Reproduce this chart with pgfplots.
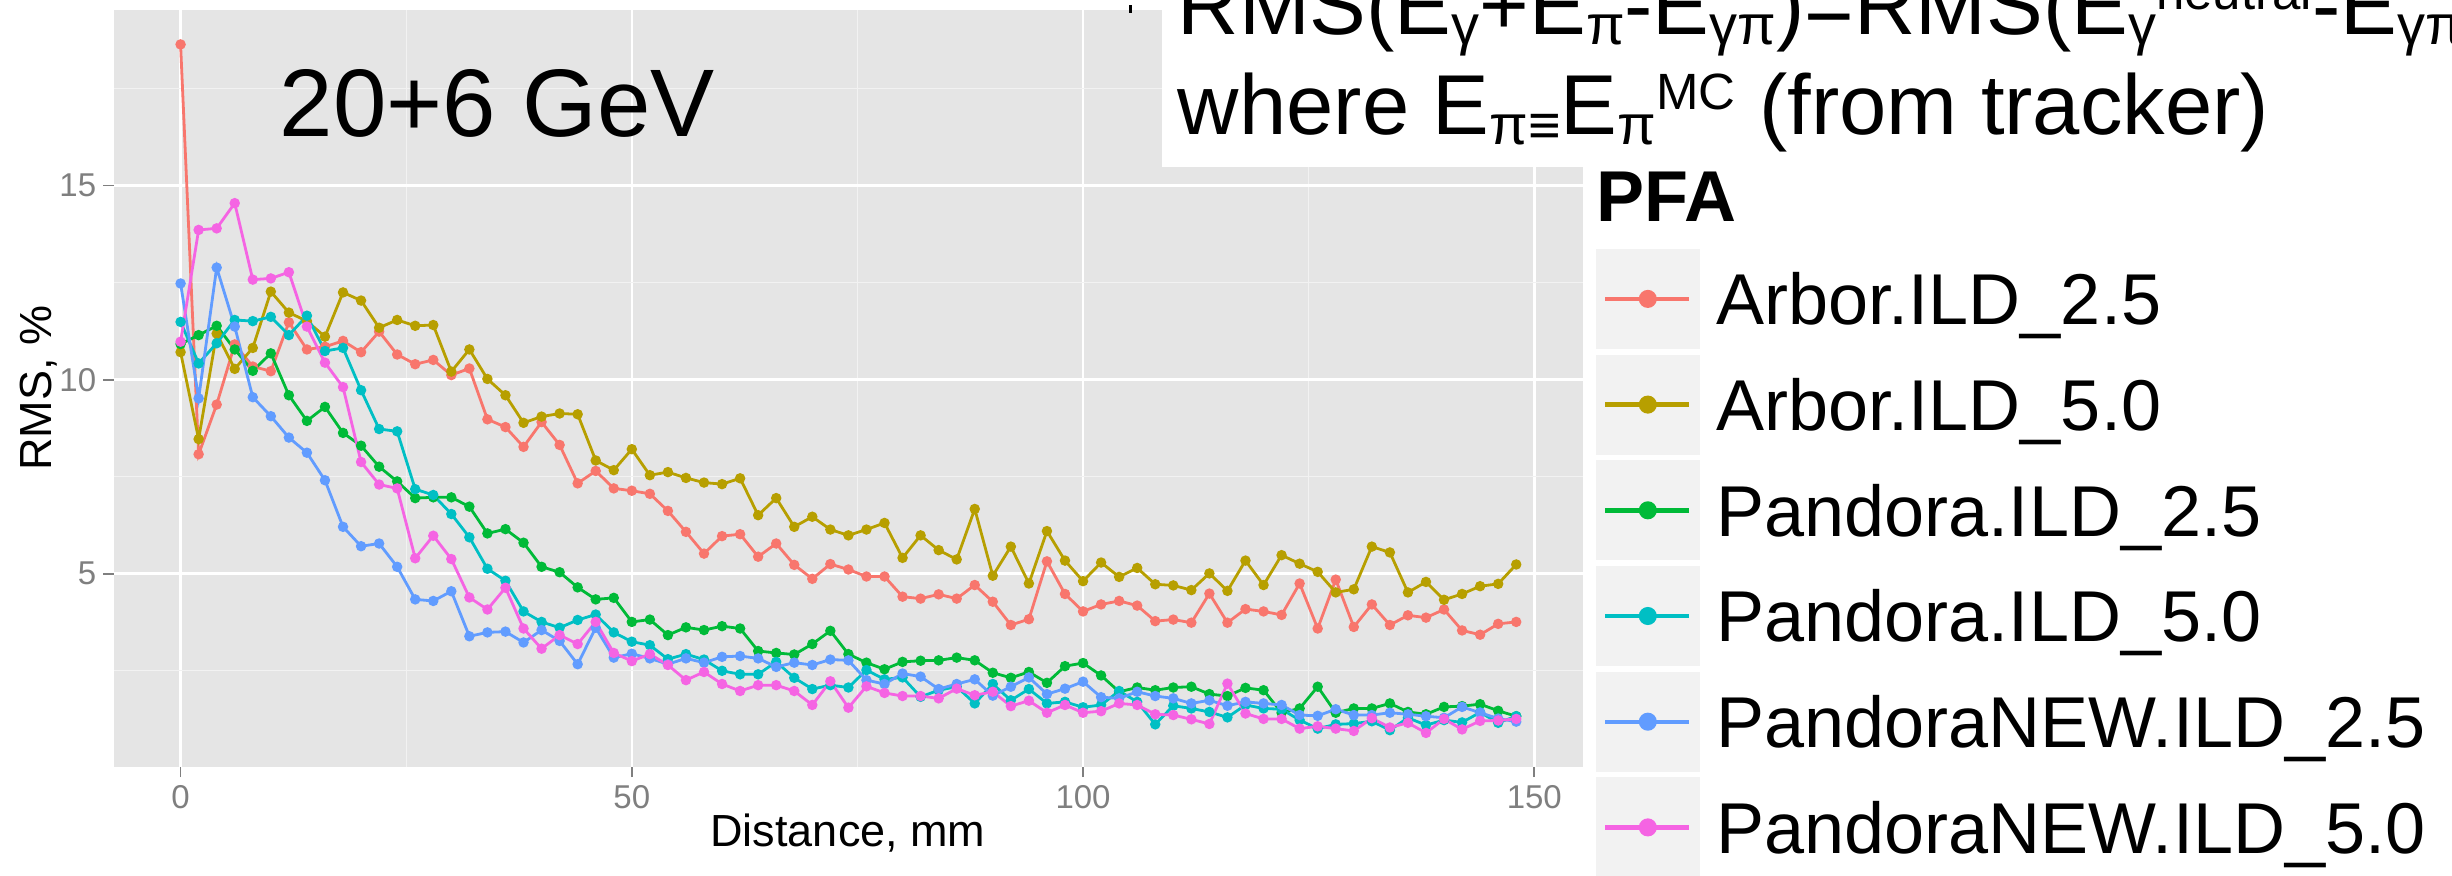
\documentclass[border=0pt]{standalone}
\usepackage{fontspec}
\setmainfont{Liberation Sans}
\usepackage{pgfplots}
\usepackage{pgfplotstable}
\pgfplotsset{compat=1.18}
\definecolor{cA}{HTML}{F8766D}
\definecolor{cB}{HTML}{B79F00}
\definecolor{cC}{HTML}{00BA38}
\definecolor{cD}{HTML}{00BFC4}
\definecolor{cE}{HTML}{619CFF}
\definecolor{cF}{HTML}{F564E3}
\definecolor{panel}{HTML}{E5E5E5}
\definecolor{gminor}{HTML}{F2F2F2}
\definecolor{tickgray}{HTML}{7F7F7F}
\definecolor{keybg}{HTML}{F2F2F2}
\newcommand\sub[1]{\raisebox{-2.5pt}{\fontsize{14pt}{14pt}\selectfont #1}}
\newcommand\sups[1]{\raisebox{6.25pt}{\fontsize{12.75pt}{12.75pt}\selectfont #1}}

\pgfplotstableread{
x a b c d e f
0 18.64 10.71 10.92 11.49 12.48 10.98
2 8.08 8.47 11.15 10.42 9.52 13.86
4 9.36 11.19 11.39 10.94 12.89 13.90
6 10.91 10.28 10.78 11.54 11.37 14.55
8 10.34 10.82 10.23 11.51 9.55 12.58
10 10.22 12.27 10.68 11.62 9.06 12.61
12 11.48 11.73 9.60 11.15 8.51 12.77
14 10.78 11.51 8.94 11.65 8.12 11.37
16 10.85 11.11 9.30 10.74 7.41 10.44
18 11.00 12.25 8.63 10.82 6.21 9.81
20 10.71 12.04 8.30 9.73 5.71 7.88
22 11.24 11.34 7.76 8.73 5.78 7.30
24 10.65 11.54 7.38 8.67 5.18 7.20
26 10.40 11.39 6.95 7.18 4.34 5.40
28 10.51 11.41 6.97 7.03 4.30 5.98
30 10.12 10.21 6.97 6.54 4.55 5.38
32 10.29 10.78 6.73 5.94 3.39 4.39
34 8.98 10.02 6.04 5.13 3.49 4.08
36 8.78 9.60 6.15 4.82 3.51 4.64
38 8.27 8.89 5.80 4.03 3.23 3.59
40 8.91 9.05 5.18 3.76 3.55 3.07
42 8.32 9.13 5.04 3.61 3.27 3.42
44 7.33 9.11 4.65 3.81 2.67 3.19
46 7.65 7.92 4.34 3.95 3.61 3.76
48 7.20 7.67 4.38 3.49 2.84 2.96
50 7.14 8.21 3.76 3.25 2.94 2.75
52 7.06 7.54 3.82 3.16 2.82 2.93
54 6.62 7.62 3.42 2.80 2.67 2.65
56 6.08 7.47 3.62 2.93 2.82 2.26
58 5.52 7.35 3.55 2.79 2.71 2.47
60 5.97 7.31 3.65 2.50 2.86 2.16
62 6.02 7.46 3.59 2.41 2.88 1.98
64 5.44 6.51 3.01 2.41 2.82 2.13
66 5.78 6.95 2.96 2.73 2.60 2.13
68 5.23 6.21 2.92 2.32 2.71 1.98
70 4.87 6.47 3.19 2.03 2.65 1.62
72 5.25 6.14 3.53 2.13 2.79 2.23
74 5.11 5.99 2.93 2.07 2.77 1.55
76 4.93 6.14 2.71 2.52 2.26 2.10
78 4.93 6.31 2.54 2.28 2.16 1.93
80 4.41 5.41 2.73 2.33 2.43 1.85
82 4.36 5.99 2.76 1.83 2.35 1.85
84 4.47 5.61 2.77 2.00 2.03 1.79
86 4.36 5.37 2.84 2.09 2.16 2.04
88 4.71 6.67 2.77 1.66 2.28 1.87
90 4.28 4.95 2.45 2.16 1.86 1.96
92 3.68 5.70 2.32 1.74 2.09 1.59
94 3.83 4.75 2.47 2.03 2.33 1.73
96 5.32 6.10 2.19 1.66 1.90 1.42
98 4.48 5.34 2.62 1.70 2.04 1.62
100 4.03 4.81 2.70 1.56 2.22 1.42
102 4.21 5.29 2.38 1.62 1.82 1.46
104 4.30 4.92 1.96 1.98 1.79 1.66
106 4.18 5.15 2.07 1.70 1.96 1.62
108 3.78 4.73 2.00 1.12 1.85 1.38
110 3.82 4.70 2.07 1.60 1.79 1.36
112 3.74 4.58 2.09 1.53 1.66 1.25
114 4.49 5.01 1.90 1.44 1.74 1.13
116 3.74 4.56 1.85 1.30 1.60 2.17
118 4.09 5.34 2.06 1.62 1.70 1.40
120 4.03 4.71 2.00 1.53 1.66 1.26
122 3.94 5.48 1.42 1.51 1.62 1.26
124 4.75 5.26 1.53 1.23 1.36 1.01
126 3.59 5.05 2.09 1.01 1.34 1.07
128 4.85 4.52 1.42 1.12 1.51 1.01
130 3.63 4.60 1.53 1.14 1.36 0.95
132 4.21 5.70 1.53 1.20 1.36 1.28
134 3.68 5.55 1.66 0.97 1.42 1.04
136 3.93 4.52 1.44 1.29 1.38 1.16
138 3.87 4.79 1.38 1.10 1.33 0.90
140 4.08 4.33 1.57 1.23 1.29 1.26
142 3.54 4.48 1.59 1.17 1.57 0.99
144 3.43 4.68 1.64 1.43 1.42 1.21
146 3.71 4.74 1.47 1.16 1.27 1.22
148 3.76 5.24 1.33 1.33 1.19 1.26
}\datatable

\begin{document}
\begin{tikzpicture}
\useasboundingbox (0pt,0pt) rectangle (613pt,219pt);
\clip (0pt,0pt) rectangle (613pt,219pt);
\begin{axis}[
  at={(28.45pt,27.33pt)}, anchor=south west,
  scale only axis, width=367.3pt, height=189.2pt,
  xmin=-7.4, xmax=155.4, ymin=0.03, ymax=19.53,
  axis background/.style={fill=panel},
  axis line style={draw=none},
  xtick={0,50,100,150}, ytick={5,10,15},
  minor xtick={25,75,125}, minor ytick={2.5,7.5,12.5,17.5},
  xmajorgrids, ymajorgrids, xminorgrids, yminorgrids,
  major grid style={white, line width=0.65pt},
  minor grid style={gminor, line width=0.33pt},
  tick align=outside, major tick length=2.6pt, minor tick length=0pt,
  xtick pos=left, ytick pos=left,
  tick style={tickgray, line width=0.4pt},
  /pgf/number format/assume math mode=true,
  xticklabel style={font=\fontsize{8.25pt}{8.25pt}\selectfont, text=tickgray, inner sep=0pt, anchor=north, yshift=-2pt},
  yticklabel style={font=\fontsize{8.25pt}{8.25pt}\selectfont, text=tickgray, inner sep=0pt, anchor=east, xshift=-1.6pt},
  legend style={at={(1.00885,0.68404)}, anchor=north west, draw=none, fill=none,
    inner sep=0pt, outer sep=0pt, row sep=1.475pt, column sep=4.25pt,
    font=\fontsize{18pt}{18pt}\selectfont,
    nodes={inner sep=0pt, outer sep=0pt, text height=12.9pt, text depth=0pt, anchor=west}},
  legend cell align=left,
  legend image code/.code={
    \fill[keybg] (0pt,-12.125pt) rectangle (25.25pt,12.125pt);
    \draw[#1, line width=1.1pt, mark=*, mark size=1.7pt, mark repeat=2, mark phase=2]
      plot coordinates {(1.9pt,0pt) (12.6pt,0pt) (23pt,0pt)};
  },
]
\addplot[cA, line width=0.7pt, mark=none] table[x=x,y=a]{\datatable};
\addlegendentry{Arbor.ILD\_2.5}
\addplot[cB, line width=0.7pt, mark=none] table[x=x,y=b]{\datatable};
\addlegendentry{Arbor.ILD\_5.0}
\addplot[cC, line width=0.7pt, mark=none] table[x=x,y=c]{\datatable};
\addlegendentry{Pandora.ILD\_2.5}
\addplot[cD, line width=0.7pt, mark=none] table[x=x,y=d]{\datatable};
\addlegendentry{Pandora.ILD\_5.0}
\addplot[cE, line width=0.7pt, mark=none] table[x=x,y=e]{\datatable};
\addlegendentry{PandoraNEW.ILD\_2.5}
\addplot[cF, line width=0.7pt, mark=none] table[x=x,y=f]{\datatable};
\addlegendentry{PandoraNEW.ILD\_5.0}
\addplot[forget plot, only marks, mark=*, mark size=1.1pt, cA, mark options={draw=none}] table[x=x,y=a]{\datatable};
\addplot[forget plot, only marks, mark=*, mark size=1.1pt, cB, mark options={draw=none}] table[x=x,y=b]{\datatable};
\addplot[forget plot, only marks, mark=*, mark size=1.1pt, cC, mark options={draw=none}] table[x=x,y=c]{\datatable};
\addplot[forget plot, only marks, mark=*, mark size=1.1pt, cD, mark options={draw=none}] table[x=x,y=d]{\datatable};
\addplot[forget plot, only marks, mark=*, mark size=1.1pt, cE, mark options={draw=none}] table[x=x,y=e]{\datatable};
\addplot[forget plot, only marks, mark=*, mark size=1.1pt, cF, mark options={draw=none}] table[x=x,y=f]{\datatable};
\end{axis}
\begin{scope}[shift={(0pt,219pt)}, x=0.25pt, y=-0.25pt]
  \fill[white] (1162,-10) rectangle (2470,167);
  \fill[black] (1129,5) rectangle (1132,13);
  \node[anchor=base west, inner sep=0pt, font=\fontsize{21.25pt}{21.25pt}\selectfont] at (1177,35)
    {RMS(E\sub{γ}+E\sub{π}-E\sub{γπ})=RMS(E\sub{γ}\sups{neutral}-E\sub{γπ})};
  \node[anchor=base west, inner sep=0pt, font=\fontsize{21.25pt}{21.25pt}\selectfont] at (1177,135)
    {where E\sub{π≡}E\sub{π}\sups{MC} (from tracker)};
  \node[anchor=base west, inner sep=0pt, font=\fontsize{24pt}{24pt}\selectfont] at (279,137) {20+6 GeV};
  \node[anchor=base west, inner sep=0pt, font=\bfseries\fontsize{18pt}{18pt}\selectfont] at (1596,222) {PFA};
  \node[anchor=base, inner sep=0pt, font=\fontsize{11.25pt}{11.25pt}\selectfont] at (848,847) {Distance, mm};
  \node[anchor=base, rotate=90, inner sep=0pt, font=\fontsize{11.25pt}{11.25pt}\selectfont] at (51,388) {RMS, \%};
\end{scope}
\end{tikzpicture}
\end{document}
